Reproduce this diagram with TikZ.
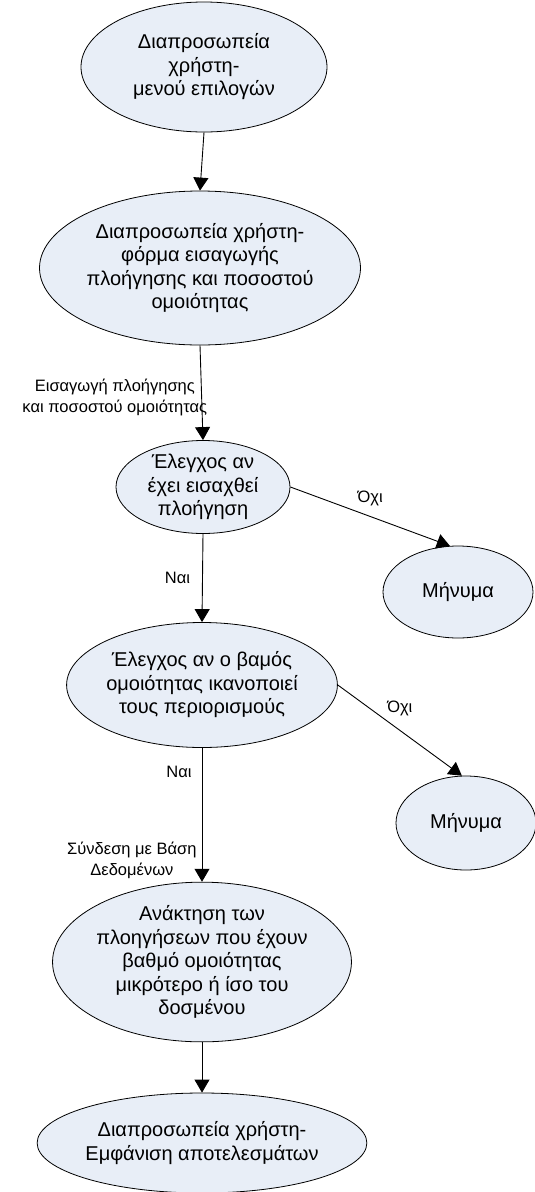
\documentclass[tikz,border=0pt]{standalone}
\usepackage{fontspec}
\setmainfont{Liberation Sans}
\usetikzlibrary{shapes.geometric,arrows.meta}
\definecolor{ellfill}{RGB}{232,238,247}
\begin{document}
\begin{tikzpicture}[x=1pt,y=-1pt,
  proc/.style={ellipse, draw=black, line width=0.8pt, fill=ellfill, inner sep=0pt, align=center, font=\fontsize{20}{23.5}\selectfont},
  arr/.style={-{Triangle[length=13pt,width=15pt]}, line width=0.9pt},
  lbl/.style={font=\fontsize{16.5}{20.5}\selectfont, inner sep=0pt, align=center}]
\useasboundingbox (0,0) rectangle (535,1192);
\node[proc, minimum width=246pt, minimum height=130pt] (e1) at (204,67) {Διαπροσωπεία\\χρήστη-\\μενού επιλογών};
\node[proc, minimum width=276pt, minimum height=154pt] (e2) at (200,268) {Διαπροσωπεία χρήστη-\\φόρμα εισαγωγής\\πλοήγησης και ποσοστού\\ομοιότητας};
\node[proc, minimum width=174pt, minimum height=93pt] (e3) at (203,487) {Έλεγχος αν\\έχει εισαχθεί\\πλοήγηση};
\node[proc, minimum width=150pt, minimum height=92pt] (m1) at (458,592) {Μήνυμα};
\node[proc, minimum width=242pt, minimum height=125pt] (e4) at (202,685) {Έλεγχος αν ο βαμός\\ομοιότητας ικανοποιεί\\τους περιορισμούς};
\node[proc, minimum width=140pt, minimum height=94pt] (m2) at (466,823) {Μήνυμα};
\node[proc, minimum width=282pt, minimum height=156pt] (e5) at (202,962) {Ανάκτηση των\\πλοηγήσεων που έχουν\\βαθμό ομοιότητας\\μικρότερο ή ίσο του\\δοσμένου};
\node[proc, minimum width=300pt, minimum height=100pt] (e6) at (202,1143) {Διαπροσωπεία χρήστη-\\Εμφάνιση αποτελεσμάτων};

\draw[arr] (e1.south) -- (e2.north);
\draw[arr] (e2.south) -- (e3.north)
  node[lbl, pos=0.55, anchor=east, xshift=6pt] {Εισαγωγή πλοήγησης\\και ποσοστού ομοιότητας};
\draw[arr] (e3.east) -- (m1.100) node[lbl, midway, above=10pt] {Όχι};
\draw[arr] (e3.south) -- (e4.north) node[lbl, pos=0.5, anchor=east, xshift=-12pt] {Ναι};
\draw[arr] (e4.east) -- (m2.95) node[lbl, midway, above=14pt] {Όχι};
\draw[arr] (e4.south) -- (e5.north)
  node[lbl, pos=0.18, anchor=east, xshift=-10pt] {Ναι}
  node[lbl, pos=0.84, anchor=east, xshift=-5pt] {Σύνδεση με Βάση\\Δεδομένων};
\draw[arr] (e5.south) -- (e6.north);
\end{tikzpicture}
\end{document}
